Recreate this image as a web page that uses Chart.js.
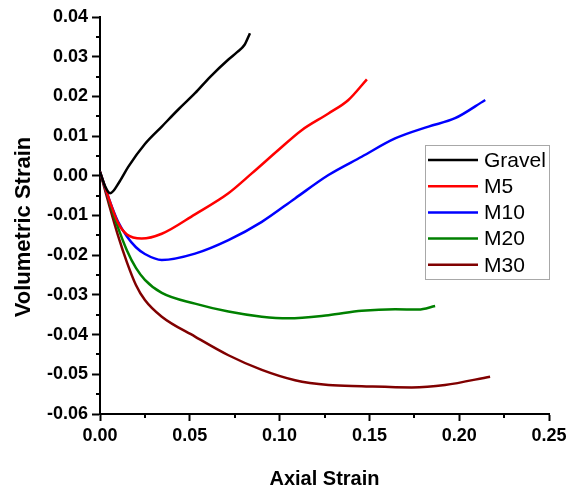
<!DOCTYPE html>
<html>
<head>
<meta charset="utf-8">
<script src="https://cdn.jsdelivr.net/npm/chart.js@4"></script>
<style>
  html, body { margin: 0; padding: 0; background: #fff; }
  #wrap { width: 571px; height: 495px; position: relative; }
</style>
</head>
<body>
<div id="wrap"><canvas id="strainChart" width="571" height="495"></canvas></div>
<script>
// Volumetric strain vs axial strain
const seriesNames = ['Gravel', 'M5', 'M10', 'M20', 'M30'];
const seriesColors = ['#000000', '#ff0000', '#0000ff', '#008000', '#800000'];

const gravelX = [0, 0.003, 0.0056, 0.0111, 0.0158, 0.025, 0.0344, 0.0436, 0.0529, 0.0615, 0.0715, 0.0765, 0.0805, 0.0835];
const gravelY = [0.001, -0.0028, -0.0044, -0.0013, 0.0023, 0.0080, 0.0124, 0.0167, 0.0208, 0.0250, 0.0293, 0.0312, 0.0330, 0.0359];

const m5X = [0, 0.005, 0.010, 0.015, 0.0232, 0.0344, 0.0529, 0.0715, 0.0845, 0.0993, 0.1123, 0.1272, 0.1383, 0.1486];
const m5Y = [0.001, -0.0058, -0.0118, -0.0148, -0.0158, -0.0146, -0.0097, -0.0044, 0.0006, 0.0065, 0.0115, 0.0157, 0.0191, 0.0243];

const m10X = [0, 0.005, 0.010, 0.015, 0.020, 0.025, 0.0344, 0.0529, 0.0715, 0.0901, 0.1086, 0.1272, 0.1457, 0.1643, 0.1829, 0.1977, 0.2145];
const m10Y = [0.001, -0.0058, -0.0115, -0.0153, -0.0180, -0.0197, -0.0212, -0.0196, -0.0162, -0.0116, -0.0057, 0.0002, 0.0048, 0.0094, 0.0124, 0.0145, 0.0191];

const m20X = [0, 0.005, 0.010, 0.015, 0.020, 0.025, 0.0344, 0.0529, 0.0715, 0.0901, 0.1049, 0.1272, 0.1457, 0.1643, 0.1773, 0.1866];
const m20Y = [0.001, -0.0062, -0.0130, -0.0188, -0.0232, -0.0262, -0.0295, -0.0322, -0.0342, -0.0355, -0.0359, -0.0351, -0.0340, -0.0336, -0.0337, -0.0328];

const m30X = [0, 0.005, 0.010, 0.015, 0.020, 0.025, 0.0344, 0.0529, 0.0715, 0.0901, 0.1086, 0.1272, 0.1457, 0.1736, 0.1921, 0.2172];
const m30Y = [0.001, -0.0072, -0.0150, -0.0218, -0.0275, -0.0313, -0.0355, -0.0405, -0.0452, -0.0489, -0.0515, -0.0527, -0.0530, -0.0533, -0.0527, -0.0506];

const xTicks = [0, 0.05, 0.10, 0.15, 0.20, 0.25];
const yTicks = [-0.06, -0.05, -0.04, -0.03, -0.02, -0.01, 0, 0.01, 0.02, 0.03, 0.04];

const allX = [gravelX, m5X, m10X, m20X, m30X];
const allY = [gravelY, m5Y, m10Y, m20Y, m30Y];

function toPoints(xs, ys) {
    return xs.map((x, i) => ({ x: x, y: ys[i] }));
}

const fontFamily = 'Arial, "Liberation Sans", sans-serif';
const tickFont = { family: fontFamily, size: 18, weight: 'bold' };
const titleFont = { family: fontFamily, size: 20, weight: 'bold' };

/**
 * Short minor ticks halfway between the major ones, plus the y title
 */
const minorTicks = {
    id: 'minorTicks',
    afterDraw(chart) {
        const ctx = chart.ctx;
        const xs = chart.scales.x;
        const ys = chart.scales.y;
        ctx.save();
        ctx.strokeStyle = '#000';
        ctx.lineWidth = 2;
        ctx.beginPath();
        for (let i = 0; i < xTicks.length - 1; i++) {
            const px = Math.round(xs.getPixelForValue((xTicks[i] + xTicks[i + 1]) / 2));
            ctx.moveTo(px, xs.top);
            ctx.lineTo(px, xs.top + 4);
        }
        for (let i = 0; i < yTicks.length - 1; i++) {
            const py = Math.round(ys.getPixelForValue((yTicks[i] + yTicks[i + 1]) / 2));
            ctx.moveTo(ys.right, py);
            ctx.lineTo(ys.right - 4, py);
        }
        ctx.stroke();

        // vertical axis title, sits a bit below the axis centre in the original
        ctx.translate(24, 227);
        ctx.rotate(-Math.PI / 2);
        ctx.font = 'bold 22px ' + fontFamily;
        ctx.fillStyle = '#000';
        ctx.textAlign = 'center';
        ctx.textBaseline = 'middle';
        ctx.fillText('Volumetric Strain', 0, 0);
        ctx.restore();
    }
};

/**
 * Boxed legend sitting inside the plot, right side
 */
const boxLegend = {
    id: 'boxLegend',
    afterDraw(chart) {
        const ctx = chart.ctx;
        const left = 425, top = 145, w = 124, h = 134;
        ctx.save();
        ctx.strokeStyle = '#a8a8a8';
        ctx.lineWidth = 1;
        ctx.strokeRect(left + 0.5, top + 0.5, w, h);
        ctx.font = '21px ' + fontFamily;
        ctx.textBaseline = 'middle';
        ctx.fillStyle = '#000';
        chart.data.datasets.forEach((ds, i) => {
            const y = top + 15 + i * 26.2;
            ctx.strokeStyle = ds.borderColor;
            ctx.lineWidth = 2.5;
            ctx.beginPath();
            ctx.moveTo(428, y);
            ctx.lineTo(478, y);
            ctx.stroke();
            ctx.fillText(ds.label, 484, y + 1);
        });
        ctx.restore();
    }
};

const ctx = document.getElementById('strainChart').getContext('2d');
new Chart(ctx, {
    type: 'scatter',
    data: {
        datasets: seriesNames.map((name, i) => ({
            label: name,
            data: toPoints(allX[i], allY[i]),
            borderColor: seriesColors[i],
            backgroundColor: seriesColors[i],
            borderWidth: 2.5,
            showLine: true,
            pointRadius: 0,
            cubicInterpolationMode: 'monotone'
        }))
    },
    options: {
        responsive: false,
        animation: false,
        layout: { padding: { top: 17, right: 22, bottom: 0, left: 0 } },
        scales: {
            x: {
                type: 'linear',
                min: 0,
                max: 0.25,
                afterBuildTicks: (scale) => { scale.ticks = xTicks.map(v => ({ value: v })); },
                afterFit: (scale) => { scale.height = 81; },
                grid: { drawOnChartArea: false, tickLength: 7, tickWidth: 2, tickColor: '#000' },
                border: { display: true, color: '#000', width: 2 },
                ticks: {
                    color: '#000',
                    font: tickFont,
                    padding: 4,
                    maxRotation: 0,
                    callback: (v) => Number(v).toFixed(2)
                },
                title: {
                    display: true,
                    text: 'Axial Strain',
                    color: '#000',
                    font: titleFont,
                    padding: { top: 0, bottom: 4 }
                }
            },
            y: {
                type: 'linear',
                min: -0.06,
                max: 0.04,
                afterBuildTicks: (scale) => { scale.ticks = yTicks.map(v => ({ value: v })); },
                afterFit: (scale) => { scale.width = 100; },
                grid: { drawOnChartArea: false, tickLength: 8, tickWidth: 2, tickColor: '#000' },
                border: { display: true, color: '#000', width: 2 },
                ticks: {
                    color: '#000',
                    font: tickFont,
                    padding: 4,
                    callback: (v) => Number(v).toFixed(2)
                },
                title: { display: false }
            }
        },
        plugins: {
            legend: { display: false },
            tooltip: { enabled: false }
        }
    },
    plugins: [minorTicks, boxLegend]
});
</script>
</body>
</html>
